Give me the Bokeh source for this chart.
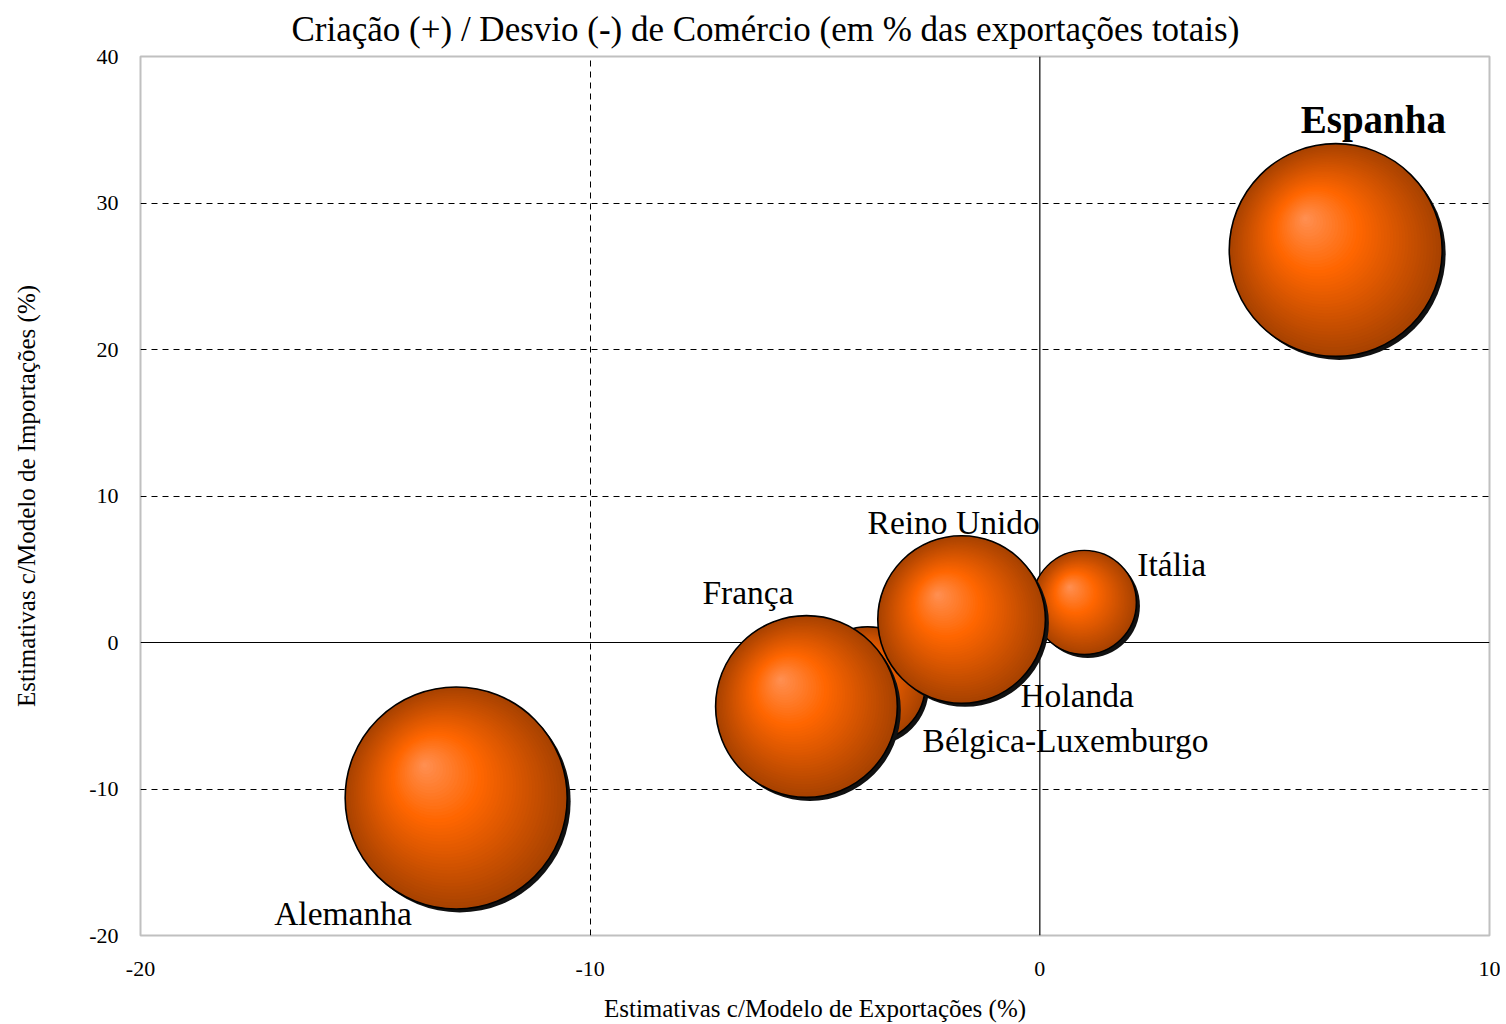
from bokeh.plotting import figure
from bokeh.models import ColumnDataSource, FixedTicker, Span, Range1d
from bokeh.core.properties import value
from bokeh.embed import file_html
from bokeh.resources import INLINE
import numpy as np

# ---------------- data ----------------
paises = ["Holanda", "Bélgica-Luxemburgo", "Itália", "Reino Unido", "França", "Alemanha", "Espanha"]
modelo_export = [-1.21, -3.83, 0.99, -1.74, -5.19, -12.98, 6.58]     # x (%)
modelo_import = [0.14, -2.87, 2.73, 1.57, -4.37, -10.61, 26.79]      # y (%)
tamanho = [16, 27, 22, 57, 67, 100, 92]                              # bubble size (area)
x_ticks = [-20, -10, 0, 10]
y_ticks = [-20, -10, 0, 10, 20, 30, 40]

titulo = "Criação (+) / Desvio (-) de Comércio (em % das exportações totais)"
rotulo_x = "Estimativas c/Modelo de Exportações (%)"
rotulo_y = "Estimativas c/Modelo de Importações (%)"

# ---------------- layout ----------------
W, H = 1500, 1024
BL, BR, BT, BB = 140, 11, 56, 89
FRAME_W = W - BL - BR
FRAME_H = H - BT - BB
X0, X1 = -20, 10
Y0, Y1 = -20, 40
PX_X = FRAME_W / (X1 - X0)
PX_Y = FRAME_H / (Y1 - Y0)
R_MAX = 111.0
FONT = "Liberation Serif"

# label offsets in screen px from bubble centre (left/middle anchor)
lab_dx = [35, 55, 53, -94, -104, -182, -35]
lab_dy = [55, 56, -38, -97, -114, 116, -131]
lab_bold = [False, False, False, False, False, False, True]

p = figure(width=W, height=H, output_backend="svg", toolbar_location=None,
           x_range=Range1d(X0, X1), y_range=Range1d(Y0, Y1),
           min_border_left=BL, min_border_right=BR, min_border_top=BT, min_border_bottom=BB)
p.background_fill_color = "white"
p.border_fill_color = "white"
p.outline_line_color = "#c0c0c0"
p.outline_line_width = 2

# title
p.title.text = titulo
p.title.text_font = FONT
p.title.text_font_style = "normal"
p.title.text_font_size = "35px"
p.title.text_color = "black"
p.title.align = "left"
p.title.offset = 151
p.title.standoff = 15

# axes
for ax, ticks in ((p.xaxis[0], x_ticks), (p.yaxis[0], y_ticks)):
    ax.ticker = FixedTicker(ticks=ticks)
    ax.major_label_overrides = {t: str(t) for t in ticks}
    ax.axis_line_color = None
    ax.major_tick_line_color = None
    ax.minor_tick_line_color = None
    ax.major_label_text_font = FONT
    ax.major_label_text_font_size = "22px"
    ax.major_label_text_color = "black"
    ax.axis_label_text_font = FONT
    ax.axis_label_text_font_size = "25px"
    ax.axis_label_text_font_style = "normal"
    ax.axis_label_text_color = "black"
p.xaxis.axis_label = rotulo_x
p.yaxis.axis_label = rotulo_y
p.xaxis.major_label_standoff = 20
p.yaxis.major_label_standoff = 16
p.xaxis.axis_label_standoff = 16
p.yaxis.axis_label_standoff = 46

# grid
p.xgrid.ticker = FixedTicker(ticks=[t for t in x_ticks if t not in (X0, X1, 0)])
p.ygrid.ticker = FixedTicker(ticks=[t for t in y_ticks if t not in (Y0, Y1, 0)])
for g in (p.xgrid, p.ygrid):
    g.grid_line_color = "black"
    g.grid_line_dash = "6 5"
    g.grid_line_width = 1

for dim in ("height", "width"):
    s = Span(location=0, dimension=dim, line_color="black", line_width=1.2)
    s.level = "underlay"
    p.add_layout(s)

# ---------------- bubbles (shaded spheres) ----------------
def shade(s):
    hi = np.array([255, 145, 85])
    mid = np.array([255, 102, 0])
    lo = np.array([168, 66, 0])
    if s < 0.4:
        c = hi + (mid - hi) * (s / 0.4)
    else:
        c = mid + (lo - mid) * ((s - 0.4) / 0.6)
    return "#%02x%02x%02x" % tuple(int(round(v)) for v in c)

N = 45
xs, ys, sz, fc, lc, lw = [], [], [], [], [], []
for xi, yi, ti in zip(modelo_export, modelo_import, tamanho):
    r = R_MAX * np.sqrt(ti / max(tamanho))
    # shadow
    xs.append(xi + 3.5 / PX_X); ys.append(yi - 3.5 / PX_Y)
    sz.append(2 * r); fc.append("#111111"); lc.append("#111111"); lw.append(0.0)
    hx, hy = -0.29 * r, 0.30 * r   # highlight offset (px, y up)
    for k in range(N):
        s = 1 - k / N
        xs.append(xi + (1 - s) * hx / PX_X)
        ys.append(yi + (1 - s) * hy / PX_Y)
        sz.append(2 * r * s)
        fc.append(shade(s))
        if k == 0:
            lc.append("black"); lw.append(1.6)
        else:
            lc.append(shade(s)); lw.append(0.0)

src = ColumnDataSource(dict(x=xs, y=ys, size=sz, fc=fc, lc=lc, lw=lw))
p.scatter(x="x", y="y", size="size", marker="circle", fill_color="fc",
          line_color="lc", line_width="lw", source=src)

# ---------------- labels ----------------
def lab_src(bold):
    idx = [i for i, b in enumerate(lab_bold) if b == bold]
    return ColumnDataSource(dict(
        x=[modelo_export[i] for i in idx], y=[modelo_import[i] for i in idx],
        t=[paises[i] for i in idx], dx=[lab_dx[i] for i in idx], dy=[lab_dy[i] for i in idx]))

p.text(x="x", y="y", text="t", x_offset="dx", y_offset="dy", source=lab_src(False),
       text_font=value(FONT), text_font_size="33.5px", text_color="black",
       text_align="left", text_baseline="middle")
p.text(x="x", y="y", text="t", x_offset="dx", y_offset="dy", source=lab_src(True),
       text_font=value(FONT), text_font_size="39px", text_font_style="bold",
       text_color="black", text_align="left", text_baseline="middle")

open("out.html", "w").write(file_html(p, INLINE))
